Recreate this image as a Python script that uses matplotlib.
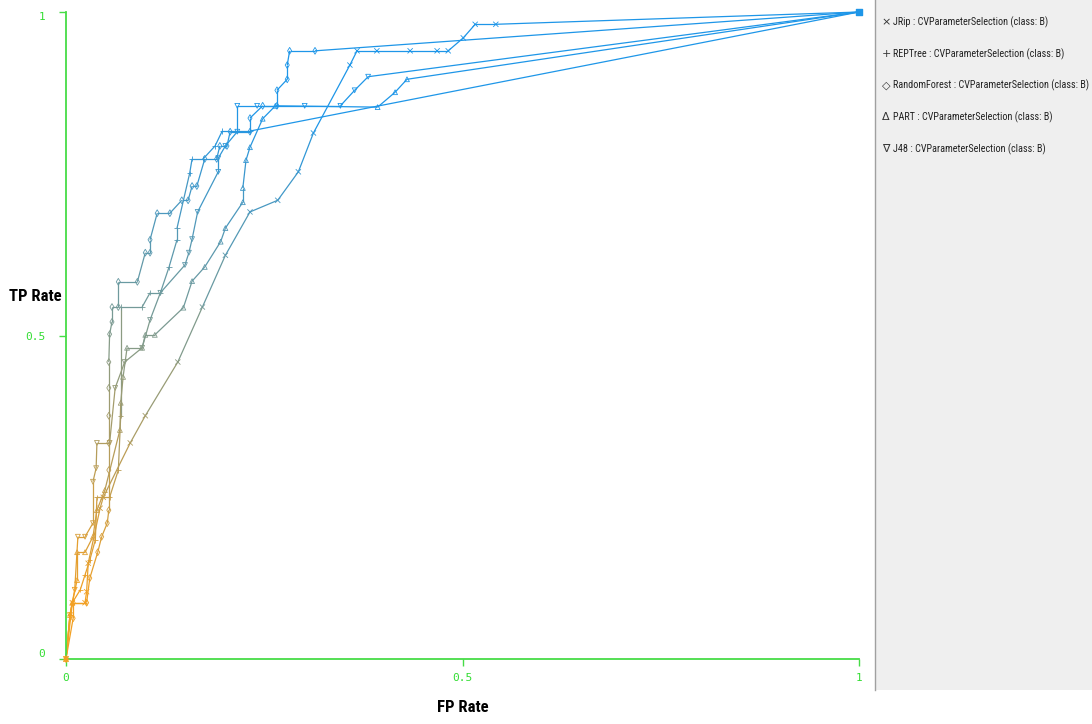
import matplotlib.pyplot as plt
import numpy as np
from matplotlib.collections import LineCollection
from matplotlib.patches import Rectangle
from matplotlib.lines import Line2D
from matplotlib import font_manager

# ROC points (FP rate, TP rate)
jrip_fpr = [0, 0.008, 0.024, 0.026, 0.028, 0.043, 0.047, 0.081, 0.100, 0.141, 0.172, 0.201, 0.232,
            0.267, 0.293, 0.312, 0.358, 0.367, 0.392, 0.434, 0.468, 0.482, 0.501, 0.516, 0.542, 1.0]
jrip_tpr = [0, 0.087, 0.087, 0.104, 0.148, 0.233, 0.250, 0.334, 0.376, 0.459, 0.544, 0.624, 0.691,
            0.709, 0.753, 0.813, 0.918, 0.940, 0.940, 0.940, 0.940, 0.940, 0.960, 0.981, 0.981, 1.0]

reptree_fpr = [0, 0.005, 0.008, 0.018, 0.024, 0.030, 0.037, 0.039, 0.055, 0.066, 0.069, 0.069, 0.096,
               0.106, 0.119, 0.130, 0.140, 0.140, 0.156, 0.159, 0.173, 0.188, 0.197, 0.232, 1.0]
reptree_tpr = [0, 0.068, 0.087, 0.107, 0.130, 0.153, 0.184, 0.250, 0.250, 0.292, 0.376, 0.544, 0.544,
               0.566, 0.566, 0.606, 0.648, 0.666, 0.751, 0.773, 0.773, 0.793, 0.816, 0.816, 1.0]

rf_fpr = [0, 0.009, 0.009, 0.026, 0.030, 0.040, 0.045, 0.052, 0.054, 0.054, 0.054, 0.054, 0.054, 0.054,
          0.055, 0.058, 0.058, 0.066, 0.066, 0.090, 0.100, 0.106, 0.106, 0.115, 0.131, 0.146, 0.154,
          0.159, 0.165, 0.175, 0.190, 0.194, 0.203, 0.207, 0.232, 0.232, 0.248, 0.266, 0.266, 0.279,
          0.279, 0.282, 0.314, 1.0]
rf_tpr = [0, 0.063, 0.087, 0.087, 0.125, 0.165, 0.189, 0.210, 0.230, 0.292, 0.334, 0.376, 0.419, 0.459,
          0.502, 0.521, 0.544, 0.544, 0.583, 0.583, 0.628, 0.628, 0.648, 0.689, 0.689, 0.709, 0.709,
          0.731, 0.731, 0.773, 0.773, 0.793, 0.793, 0.815, 0.815, 0.836, 0.855, 0.855, 0.879, 0.896,
          0.918, 0.940, 0.940, 1.0]

part_fpr = [0, 0.005, 0.008, 0.014, 0.014, 0.024, 0.034, 0.039, 0.049, 0.068, 0.069, 0.072, 0.077,
            0.096, 0.100, 0.112, 0.148, 0.159, 0.175, 0.195, 0.201, 0.223, 0.223, 0.227, 0.232, 0.248,
            0.264, 0.393, 0.415, 0.430, 1.0]
part_tpr = [0, 0.068, 0.087, 0.122, 0.165, 0.165, 0.189, 0.230, 0.261, 0.354, 0.396, 0.436, 0.481,
            0.481, 0.501, 0.501, 0.543, 0.584, 0.606, 0.645, 0.666, 0.706, 0.728, 0.771, 0.791, 0.835,
            0.855, 0.853, 0.876, 0.896, 1.0]

j48_fpr = [0, 0.005, 0.011, 0.015, 0.024, 0.034, 0.034, 0.038, 0.039, 0.055, 0.062, 0.074, 0.096,
           0.106, 0.119, 0.150, 0.155, 0.159, 0.166, 0.192, 0.192, 0.201, 0.216, 0.216, 0.241, 0.301,
           0.346, 0.364, 0.381, 1.0]
j48_tpr = [0, 0.068, 0.107, 0.189, 0.189, 0.210, 0.274, 0.295, 0.334, 0.334, 0.419, 0.459, 0.481,
           0.524, 0.566, 0.609, 0.628, 0.649, 0.691, 0.753, 0.774, 0.793, 0.815, 0.855, 0.855, 0.855,
           0.855, 0.879, 0.900, 1.0]

legend_labels = ['JRip : CVParameterSelection (class: B)',
                 'REPTree : CVParameterSelection (class: B)',
                 'RandomForest : CVParameterSelection (class: B)',
                 'PART : CVParameterSelection (class: B)',
                 'J48 : CVParameterSelection (class: B)']
legend_symbols = ['\u00d7', '+', '\u25c7', '\u0394', '\u2207']

ORANGE = np.array([242, 160, 35]) / 255
BLUE = np.array([30, 150, 232]) / 255
AXIS_GREEN = '#46dc46'

# narrow font if available
names = {f.name for f in font_manager.fontManager.ttflist}
NARROW = None
for cand in ['Liberation Sans Narrow', 'DejaVu Sans Condensed', 'Roboto Condensed', 'Open Sans Condensed']:
    if cand in names:
        NARROW = cand
        break
label_family = [NARROW, 'DejaVu Sans'] if NARROW else ['DejaVu Sans']


def grad(y):
    t = np.clip((np.asarray(y, dtype=float) - 0.1) / 0.75, 0, 1)[:, None]
    return ORANGE * (1 - t) + BLUE * t


fig = plt.figure(figsize=(10.92, 7.24), dpi=100)
ax = fig.add_axes([66 / 1092, 65 / 724, 793 / 1092, 647 / 724])

curves = [
    (jrip_fpr, jrip_tpr, 'x', False),
    (reptree_fpr, reptree_tpr, '+', False),
    (rf_fpr, rf_tpr, 'd', True),
    (part_fpr, part_tpr, '^', True),
    (j48_fpr, j48_tpr, 'v', True),
]

for fpr, tpr, marker, hollow in curves:
    pts = np.column_stack([fpr, tpr])
    segs = np.stack([pts[:-1], pts[1:]], axis=1)
    mid_y = (pts[:-1, 1] + pts[1:, 1]) / 2
    lc = LineCollection(segs, colors=grad(mid_y), linewidths=0.9, clip_on=False, zorder=2)
    ax.add_collection(lc)
    cols = grad(tpr[:-1])
    if hollow:
        ax.scatter(fpr[:-1], tpr[:-1], marker=marker, s=12, facecolors='none',
                   edgecolors=cols, linewidths=0.6, clip_on=False, zorder=3)
    else:
        ax.scatter(fpr[:-1], tpr[:-1], marker=marker, s=14, c=cols,
                   linewidths=0.6, clip_on=False, zorder=3)

ax.scatter([1], [1], marker='s', s=14, color=BLUE, clip_on=False, zorder=4)

ax.set_xlim(0, 1)
ax.set_ylim(0, 1)
for side in ['top', 'right']:
    ax.spines[side].set_visible(False)
for side in ['left', 'bottom']:
    ax.spines[side].set_color(AXIS_GREEN)
    ax.spines[side].set_linewidth(1.3)

ax.set_xticks([0, 0.5, 1])
ax.set_xticklabels(['0', '0.5', '1'])
ax.set_yticks([0, 0.5, 1])
ax.set_yticklabels(['0', '0.5', '1'])
ax.tick_params(colors=AXIS_GREEN, labelcolor='#33dd33', length=5, width=1, labelsize=8)
for lab in ax.get_xticklabels() + ax.get_yticklabels():
    lab.set_family('DejaVu Sans Mono')
ax.tick_params(axis='y', pad=10)
ax.tick_params(axis='x', pad=5)
ylabs = ax.get_yticklabels()
ylabs[0].set_va('bottom')
ylabs[2].set_va('top')

ax.set_xlabel('FP Rate', fontsize=12, fontweight='bold', family=label_family,
              fontstretch='condensed', labelpad=12)
fig.text(35 / 1092, 1 - 297 / 724, 'TP Rate', fontsize=12, fontweight='bold',
         family=label_family, fontstretch='condensed', ha='center', va='center')

# legend panel on the right
fig.patches.append(Rectangle((875 / 1092, 34 / 724), 217 / 1092, 690 / 724,
                             transform=fig.transFigure, fc='#efefef', ec='none', zorder=0))
fig.lines.append(Line2D([875 / 1092, 875 / 1092], [34 / 724, 1], transform=fig.transFigure,
                        color='#a0a0a0', lw=1))

legend_texts = []
for i, (sym, lab) in enumerate(zip(legend_symbols, legend_labels)):
    ypos = 1 - (22 + i * 31.8) / 724
    fig.text(886 / 1092, ypos, sym, fontsize=8, ha='center', va='center', color='#333333')
    legend_texts.append(fig.text(893 / 1092, ypos, lab, fontsize=8.5, ha='left', va='center',
                                 color='#222222', family=label_family, fontstretch='condensed'))

# shrink legend text so the longest entry fits the panel like the reference
fig.canvas.draw()
widest = max(tx.get_window_extent().width for tx in legend_texts)
if widest > 195:
    for tx in legend_texts:
        tx.set_fontsize(8.5 * 195 / widest)

fig.savefig('out.png', dpi=100)
